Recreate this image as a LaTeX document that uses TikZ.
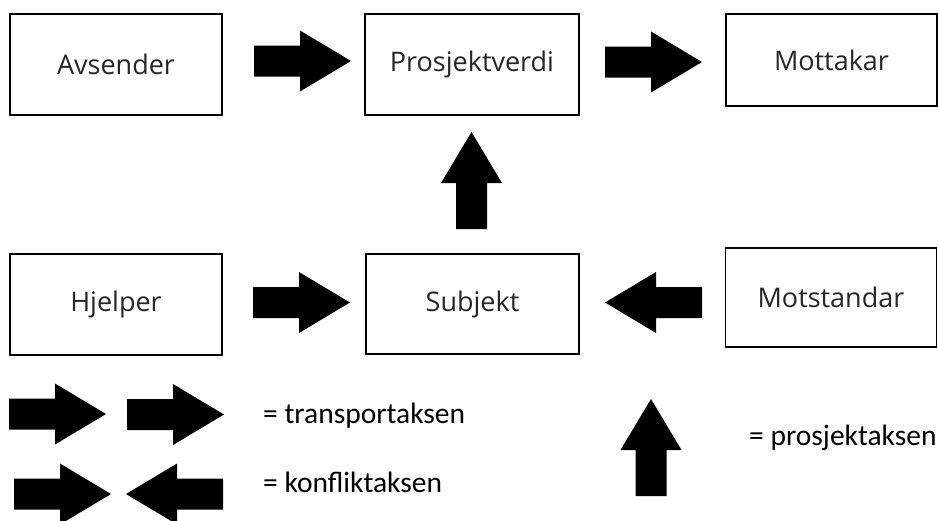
\documentclass[tikz,border=0pt]{standalone}
\usepackage{fontspec}
\setmainfont{Open Sans}
\newfontfamily\legendfont{Carlito}
\begin{document}
\begin{tikzpicture}[x=1pt,y=-1pt,
  box/.style={draw, line width=1.6pt, fill=white, inner sep=0pt, text=black!85, font=\fontsize{27}{31}\selectfont},
  legendtext/.style={font=\legendfont\fontsize{29.5}{34}\selectfont, anchor=base west, inner sep=0pt},
  rarrow/.pic={\fill[black] (0,-15.5) -- (46,-15.5) -- (46,-30.5) -- (97,0) -- (46,30.5) -- (46,15.5) -- (0,15.5) -- cycle;}]
\useasboundingbox (0,0) rectangle (938,520);

% boxes
\node[box, minimum width=212pt, minimum height=101pt] (avs) at (116,64.5) {Avsender};
\node[box, minimum width=214pt, minimum height=101pt] (pro) at (472,64.5) {Prosjektverdi};
\node[box, minimum width=211pt, minimum height=92pt] (mot) at (831.5,60) {Mottakar};
\node[box, minimum width=212pt, minimum height=101pt] (hje) at (116,304.5) {Hjelper};
\node[box, minimum width=213pt, minimum height=100pt] (sub) at (472.5,304) {Subjekt};
\node[box, minimum width=211pt, minimum height=99pt] (mst) at (831,297.5) {Motstandar};

% block arrows in the diagram
\pic at (254,61) {rarrow};
\pic at (605,62) {rarrow};
\pic at (253,302.5) {rarrow};
\pic[xscale=-1] at (702,302.5) {rarrow};
\pic[rotate=90] at (471.5,229) {rarrow};

% legend arrows
\pic at (9,414) {rarrow};
\pic at (127,414.5) {rarrow};
\pic at (14,494) {rarrow};
\pic[xscale=-1] at (223,494) {rarrow};
\pic[rotate=90] at (651,496) {rarrow};

% legend texts
\node[legendtext] (lt) at (263,423.3) {= transportaksen};
\node[legendtext] (lk) at (263,492.7) {= konfliktaksen};
\node[legendtext] (lp) at (749,445) {= prosjektaksen};
\end{tikzpicture}
\end{document}
